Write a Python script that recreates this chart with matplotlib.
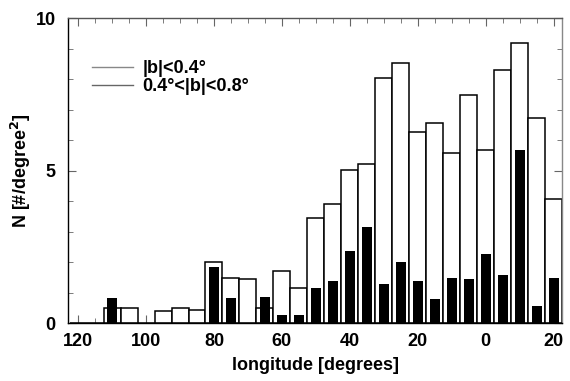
import matplotlib
matplotlib.use("Agg")
import matplotlib.pyplot as plt
from matplotlib.lines import Line2D
from matplotlib.ticker import MultipleLocator, FixedLocator

# bin centres in galactic longitude (deg), 5 deg bins
lon = [120, 115, 110, 105, 100, 95, 90, 85, 80, 75, 70, 65, 60, 55, 50,
       45, 40, 35, 30, 25, 20, 15, 10, 5, 0, -5, -10, -15, -20]
# |b| < 0.4 deg  (open bars)
n_inner = [0, 0, 0.49, 0.49, 0, 0.39, 0.49, 0.43, 2.02, 1.49, 1.45, 0.49, 1.70, 1.15, 3.45,
           3.92, 5.04, 5.21, 8.03, 8.52, 6.28, 6.56, 5.59, 7.47, 5.67, 8.31, 9.19, 6.72, 4.08]
# 0.4 < |b| < 0.8 deg  (filled bars)
n_outer = [0, 0, 0.83, 0, 0, 0, 0, 0, 1.85, 0.83, 0, 0.87, 0.27, 0.27, 1.15,
           1.40, 2.38, 3.17, 1.29, 2.00, 1.40, 0.79, 1.50, 1.45, 2.28, 1.60, 5.69, 0.56, 1.50]

xticks = [120, 100, 80, 60, 40, 20, 0, -20]
xticklabels = ["120", "100", "80", "60", "40", "20", "0", "20"]
legend_labels = ["|b|<0.4°", "0.4°<|b|<0.8°"]

plt.rcParams["font.family"] = ["Liberation Sans", "DejaVu Sans"]
plt.rcParams["font.weight"] = "bold"
plt.rcParams["mathtext.default"] = "bf"

fig = plt.figure(figsize=(5.7, 3.81), dpi=100)
ax = fig.add_axes([0.1198, 0.1514, 0.8657, 0.8006])

ax.bar(lon, n_inner, width=5, color="white", edgecolor="black", linewidth=1.1, zorder=2)
ax.bar(lon, n_outer, width=2.9, color="black", edgecolor="none", zorder=3)

ax.set_xlim(122.9, -22.4)
ax.set_ylim(0, 10)
ax.xaxis.set_major_locator(FixedLocator(xticks))
ax.set_xticklabels(xticklabels)
ax.xaxis.set_minor_locator(MultipleLocator(5))
ax.yaxis.set_major_locator(FixedLocator([0, 5, 10]))
ax.yaxis.set_minor_locator(MultipleLocator(1))
ax.tick_params(which="both", direction="in", top=True, right=True, color="#666666")
ax.tick_params(which="major", length=6, labelsize=13)
ax.tick_params(axis="x", which="major", pad=7)
ax.tick_params(axis="y", which="major", pad=9)
ax.tick_params(which="minor", length=3.5)
for s in ax.spines.values():
    s.set_linewidth(1.0)
ax.spines["top"].set_color("#555555")
ax.spines["right"].set_color("#888888")

ax.set_xlabel("longitude [degrees]", fontsize=13, fontweight="bold", labelpad=5)
ax.set_ylabel(r"N [#/degree$^2$]", fontsize=13, fontweight="bold", labelpad=2)

handles = [Line2D([], [], color="#888888", lw=1.0), Line2D([], [], color="#666666", lw=1.0)]
ax.legend(handles, legend_labels, loc="upper left", bbox_to_anchor=(0.015, 0.915),
          frameon=False, handlelength=2.3, handletextpad=0.5,
          labelspacing=0.05, prop={"weight": "bold", "size": 13})

fig.savefig("out.png", dpi=100)
